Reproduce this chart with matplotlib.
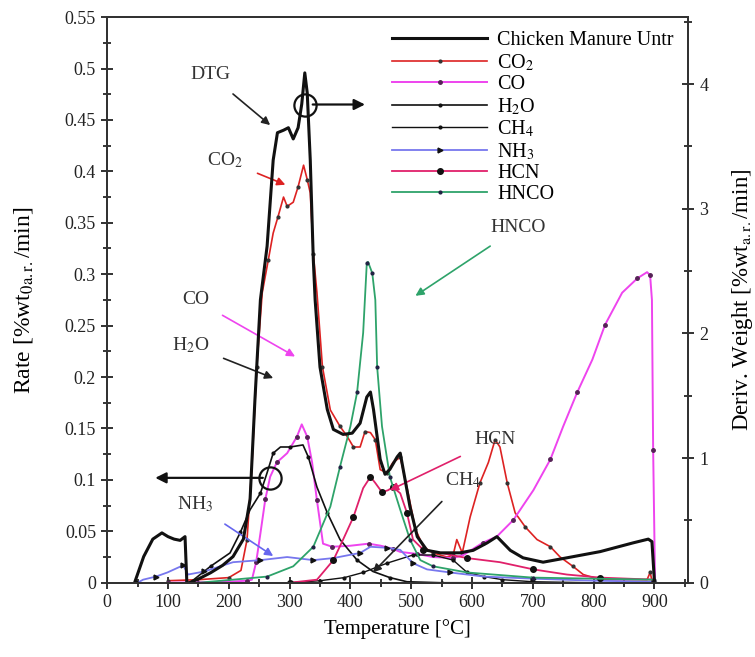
import numpy as np
import matplotlib
matplotlib.use("Agg")
import matplotlib.pyplot as plt
from matplotlib.ticker import MultipleLocator, FuncFormatter

plt.rcParams["font.family"] = ["Liberation Serif", "DejaVu Serif"]
plt.rcParams["mathtext.fontset"] = "stix"

# DTG of chicken manure (right axis, %wt/min)
dtg_t = [45, 60, 75, 90, 100, 110, 120, 128, 131, 135, 150, 170, 190, 207, 224, 235, 243, 252,
         263, 273, 280, 290, 298, 306, 314, 320, 325, 329, 334, 339, 342, 350, 362, 372, 388,
         403, 416, 427, 433, 438, 449, 457, 465, 477, 482, 498, 510, 526, 548, 580, 602, 625,
         641, 663, 684, 717, 756, 811, 865, 890, 896, 900]
dtg_v = [0.0, 0.21, 0.35, 0.40, 0.37, 0.35, 0.34, 0.37, 0.0, 0.0, 0.03, 0.08, 0.14, 0.21, 0.35,
         0.67, 1.47, 2.27, 2.70, 3.39, 3.61, 3.63, 3.65, 3.56, 3.65, 3.84, 4.09, 3.93, 3.39,
         2.59, 2.27, 1.73, 1.39, 1.23, 1.19, 1.20, 1.28, 1.49, 1.53, 1.39, 0.99, 0.87, 0.91,
         1.01, 1.04, 0.61, 0.37, 0.26, 0.24, 0.24, 0.26, 0.32, 0.37, 0.26, 0.20, 0.165, 0.20,
         0.25, 0.32, 0.35, 0.33, 0.02]

co2_t = [100, 150, 200, 220, 230, 238, 246, 255, 265, 273, 281, 290, 296, 306, 314, 323, 329,
         334, 339, 345, 354, 367, 383, 395, 405, 416, 424, 433, 441, 449, 460, 470, 482, 493,
         507, 520, 536, 559, 569, 575, 584, 597, 613, 627, 638, 646, 658, 671, 688, 707, 729,
         745, 766, 783, 811, 888, 893, 897]
co2_v = [0.002, 0.003, 0.005, 0.012, 0.042, 0.113, 0.21, 0.282, 0.314, 0.34, 0.356, 0.375,
         0.366, 0.37, 0.385, 0.406, 0.392, 0.379, 0.32, 0.282, 0.21, 0.168, 0.152, 0.142,
         0.132, 0.132, 0.147, 0.146, 0.139, 0.11, 0.107, 0.117, 0.122, 0.093, 0.052, 0.035,
         0.029, 0.025, 0.027, 0.042, 0.029, 0.064, 0.097, 0.117, 0.139, 0.132, 0.097, 0.068,
         0.054, 0.042, 0.035, 0.025, 0.016, 0.008, 0.003, 0.003, 0.01, 0.0]

co_t = [100, 200, 230, 238, 245, 252, 260, 268, 279, 296, 312, 320, 329, 337, 345, 355, 370,
        400, 430, 450, 470, 482, 510, 536, 569, 586, 618, 641, 668, 701, 729, 750, 773, 798,
        819, 847, 872, 888, 893, 896, 898, 901]
co_v = [0.0, 0.001, 0.002, 0.003, 0.02, 0.048, 0.081, 0.103, 0.117, 0.126, 0.142, 0.154,
        0.142, 0.117, 0.08, 0.038, 0.035, 0.036, 0.038, 0.036, 0.033, 0.03, 0.028, 0.025,
        0.024, 0.027, 0.039, 0.045, 0.061, 0.09, 0.12, 0.152, 0.185, 0.217, 0.251, 0.282,
        0.296, 0.302, 0.299, 0.275, 0.129, 0.005]

h2o_t = [130, 136, 170, 202, 219, 235, 252, 263, 273, 285, 301, 322, 331, 345, 362, 383, 411,
         437, 465, 493, 550, 700]
h2o_v = [0.0, 0.0, 0.016, 0.029, 0.049, 0.071, 0.087, 0.107, 0.126, 0.132, 0.132, 0.134,
         0.122, 0.093, 0.068, 0.042, 0.022, 0.011, 0.005, 0.001, 0.0, 0.0]

ch4_t = [300, 350, 390, 421, 460, 503, 536, 569, 592, 620, 650, 700, 800]
ch4_v = [0.0, 0.002, 0.005, 0.01, 0.019, 0.027, 0.027, 0.022, 0.01, 0.006, 0.003, 0.001, 0.0]

nh3_t = [50, 59, 80, 99, 125, 133, 160, 207, 252, 296, 339, 372, 416, 433, 460, 482, 503, 526,
         564, 620, 700, 800, 900]
nh3_v = [0.0, 0.003, 0.006, 0.01, 0.017, 0.008, 0.011, 0.02, 0.022, 0.025, 0.022, 0.024, 0.029,
         0.035, 0.034, 0.032, 0.019, 0.013, 0.01, 0.006, 0.004, 0.002, 0.001]

hcn_t = [300, 345, 372, 388, 405, 421, 433, 441, 452, 462, 470, 482, 493, 503, 520, 548, 592,
         646, 701, 756, 811, 900]
hcn_v = [0.0, 0.003, 0.022, 0.042, 0.064, 0.092, 0.103, 0.097, 0.088, 0.09, 0.093, 0.087,
         0.068, 0.042, 0.032, 0.029, 0.024, 0.02, 0.013, 0.008, 0.005, 0.003]

hnco_t = [150, 207, 263, 306, 339, 367, 383, 400, 411, 421, 427, 429, 436, 441, 444, 452, 465,
          482, 498, 515, 536, 592, 700, 800, 900]
hnco_v = [0.0, 0.003, 0.006, 0.016, 0.035, 0.074, 0.113, 0.152, 0.185, 0.243, 0.311, 0.312,
          0.301, 0.275, 0.21, 0.152, 0.103, 0.071, 0.042, 0.022, 0.016, 0.01, 0.005, 0.004,
          0.003]

fig = plt.figure(figsize=(7.55, 6.57), dpi=100)
ax = fig.add_axes([0.142, 0.113, 0.769, 0.861])
ax2 = ax.twinx()

h_co2, = ax.plot(co2_t, co2_v, color="#dd2222", lw=1.2, marker="o", ms=2, mfc="#333", mec="#333", markevery=2)
h_co, = ax.plot(co_t, co_v, color="#ee44ee", lw=1.4, marker="o", ms=2.5, mfc="#552255", mec="#552255", markevery=2)
h_h2o, = ax.plot(h2o_t, h2o_v, color="#111", lw=1.2, marker="o", ms=2, markevery=2)
h_ch4, = ax.plot(ch4_t, ch4_v, color="#111", lw=1.0, marker="o", ms=2, markevery=1)
h_nh3, = ax.plot(nh3_t, nh3_v, color="#7777ee", lw=1.3, marker=">", ms=3.5, mfc="#111", mec="#111", markevery=2)
h_hcn, = ax.plot(hcn_t, hcn_v, color="#e0206a", lw=1.3, marker="o", ms=4, mfc="#111", mec="#111", markevery=2)
h_hnco, = ax.plot(hnco_t, hnco_v, color="#2ea36a", lw=1.3, marker="o", ms=2, mfc="#224", mec="#224", markevery=2)
h_dtg, = ax2.plot(dtg_t, dtg_v, color="#111", lw=2.2)

ax.set_xlim(0, 955)
ax.set_ylim(0, 0.55)
ax2.set_ylim(0, 0.55 * 8.25)

ax.xaxis.set_major_locator(MultipleLocator(100))
ax.xaxis.set_minor_locator(MultipleLocator(50))
ax.yaxis.set_major_locator(MultipleLocator(0.05))
ax.yaxis.set_minor_locator(MultipleLocator(0.025))
ax.yaxis.set_major_formatter(FuncFormatter(lambda v, p: "%g" % round(v, 3)))
ax.xaxis.set_major_formatter(FuncFormatter(lambda v, p: "%d" % round(v)))
ax2.yaxis.set_major_locator(MultipleLocator(1))
ax2.yaxis.set_minor_locator(MultipleLocator(0.5))
ax2.yaxis.set_major_formatter(FuncFormatter(lambda v, p: "%d" % round(v)))

for a in (ax, ax2):
    a.tick_params(which="major", direction="inout", length=9, width=1.3, labelsize=13, colors="#222")
    a.tick_params(which="minor", direction="inout", length=6, width=1.1)
    for s in a.spines.values():
        s.set_linewidth(1.4)
        s.set_color("#333")
ax2.tick_params(axis="y", pad=4)

ax.set_xlabel("Temperature [°C]", fontsize=15, labelpad=6)
ax.set_ylabel(r"Rate [%wt$_{\mathrm{0a.r.}}$/min]", fontsize=17)
ax.yaxis.set_label_coords(-0.125, 0.5)
ax2.set_ylabel(r"Deriv. Weight [%wt$_{\mathrm{a.r.}}$/min]", fontsize=16.5)
ax2.yaxis.set_label_coords(1.072, 0.5)

# annotations
def note(text, xy, xytext, color):
    ax.annotate(text, xy=xy, xytext=xytext, fontsize=14, color="#333", ha="center", va="center",
                arrowprops=dict(arrowstyle="-|>", color=color, lw=1.2, shrinkA=9, shrinkB=0,
                                mutation_scale=12))

note("DTG", (268, 0.445), (169, 0.494), "#222")
note("CO$_2$", (293, 0.387), (194, 0.411), "#dd2222")
note("CO", (309, 0.22), (145, 0.275), "#ee44ee")
note("H$_2$O", (273, 0.199), (137, 0.231), "#222")
note("NH$_3$", (273, 0.026), (145, 0.076), "#6666ee")
note("HNCO", (507, 0.279), (675, 0.345), "#2ea36a")
note("HCN", (465, 0.09), (638, 0.139), "#e0206a")
note("CH$_4$", (437, 0.01), (585, 0.1), "#222")

ax.plot([326], [0.465], marker="o", ms=16, mfc="none", mec="#111", mew=1.6)
ax.annotate("", xy=(424, 0.465), xytext=(338, 0.465),
            arrowprops=dict(arrowstyle="-|>", color="#111", lw=1.6, mutation_scale=16, shrinkA=0, shrinkB=0))
ax.plot([268], [0.102], marker="o", ms=16, mfc="none", mec="#111", mew=1.6)
ax.annotate("", xy=(79, 0.102), xytext=(256, 0.102),
            arrowprops=dict(arrowstyle="-|>", color="#111", lw=1.6, mutation_scale=16, shrinkA=0, shrinkB=0))

handles = [h_dtg, h_co2, h_co, h_h2o, h_ch4, h_nh3, h_hcn, h_hnco]
labels = ["Chicken Manure Untr", "CO$_2$", "CO", "H$_2$O", "CH$_4$", "NH$_3$", "HCN", "HNCO"]
ax2.legend(handles, labels, loc="upper right", frameon=False, fontsize=14.5, handlelength=4.7,
           labelspacing=0.1, borderaxespad=0.3, handletextpad=0.5, markerscale=1.0)

fig.savefig("out.png", dpi=100)
